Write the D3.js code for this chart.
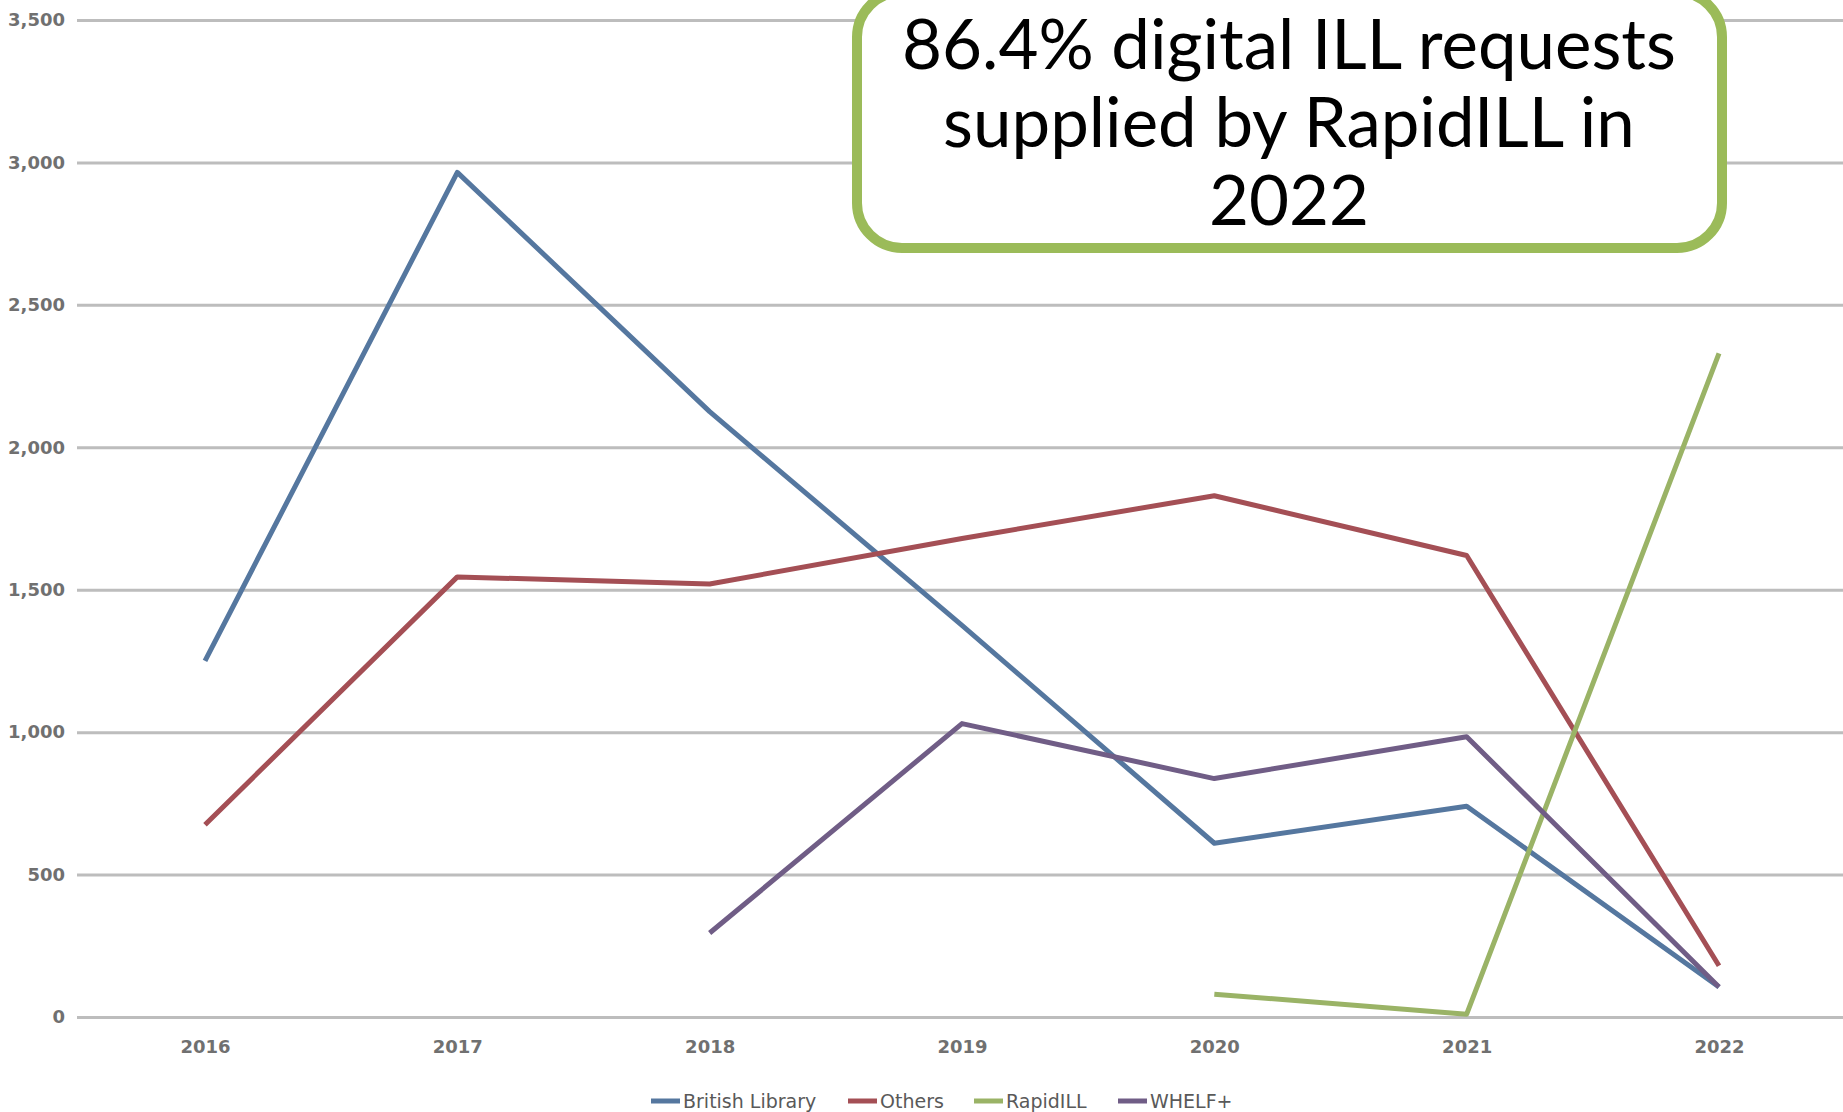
<!DOCTYPE html>
<html>
<head>
<meta charset="utf-8">
<script src="https://cdn.jsdelivr.net/npm/d3@7"></script>
<style>
  body { margin: 0; background: #fff; }
  svg { display: block; }
</style>
</head>
<body>
<svg id="chart" width="1843" height="1112"></svg>
<script>
// data
let years = ["2016", "2017", "2018", "2019", "2020", "2021", "2022"];
let british_library = [1250, 2965, 2125, 1375, 610, 740, 105];
let others = [675, 1545, 1520, 1680, 1830, 1620, 180];
let rapidill = [null, null, null, null, 80, 10, 2330];
let whelf = [null, null, 295, 1030, 837, 984, 105];
let y_ticks = [0, 500, 1000, 1500, 2000, 2500, 3000, 3500];
let series_names = ["British Library", "Others", "RapidILL", "WHELF+"];
let note_lines = ["86.4% digital ILL requests", "supplied by RapidILL in", "2022"];

function draw_chart(svg_name){

    let chart = d3.select(svg_name);
    let chart_width = +chart.attr("width");

    let colors = ["#55779f", "#a44f55", "#9ab366", "#705d86"];
    let all_series = [british_library, others, rapidill, whelf];

    // x position scale
    let x = d3.scalePoint()
            .domain(years)
            .range([205, 1719]);

    // y position scale
    let y = d3.scaleLinear()
            .domain([0, 3500])
            .range([1017, 20]);

    // gridlines + y labels
    let y_axis = chart.append("g")
        .attr("transform", "translate(77,0)")
        .call(d3.axisLeft(y)
            .tickValues(y_ticks)
            .tickFormat(d3.format(","))
            .tickSize(-(chart_width - 77))
            .tickPadding(12));
    y_axis.select(".domain").remove();
    y_axis.selectAll("line")
        .attr("stroke", "#bdbdbd")
        .attr("stroke-width", 3);
    y_axis.selectAll("text")
        .attr("fill", "#707070")
        .style("font-family", "DejaVu Sans")
        .style("font-weight", "bold")
        .style("font-size", "18px");

    // x labels
    let x_axis = chart.append("g")
        .attr("transform", "translate(0,1017)")
        .call(d3.axisBottom(x).tickSize(0).tickPadding(23));
    x_axis.select(".domain").remove();
    x_axis.selectAll("text")
        .attr("fill", "#707070")
        .style("font-family", "DejaVu Sans")
        .style("font-weight", "bold")
        .style("font-size", "18px");

    // lines
    let line = d3.line()
        .defined(function(d){ return d != null; })
        .x(function(d, i){ return x(years[i]); })
        .y(function(d){ return y(d); });

    chart.append("g")
        .selectAll("path")
        .data(all_series).enter()
        .append("path")
            .attr("d", line)
            .attr("fill", "none")
            .attr("stroke", function(d, i){ return colors[i]; })
            .attr("stroke-width", 5)
            .attr("stroke-linejoin", "round");

    // legend
    let legend_x = [651, 848, 974, 1118];
    let legend = chart.append("g")
        .selectAll("g")
        .data(series_names).enter()
        .append("g")
            .attr("transform", function(d, i){ return "translate(" + legend_x[i] + ",1101)"; });
    legend.append("line")
        .attr("x1", 0).attr("x2", 29)
        .attr("stroke", function(d, i){ return colors[i]; })
        .attr("stroke-width", 5);
    legend.append("text")
        .attr("x", 32)
        .attr("dy", "0.35em")
        .attr("fill", "#595959")
        .style("font-family", "DejaVu Sans")
        .style("font-size", "19px")
        .text(function(d){ return d; });

    // callout box
    chart.append("rect")
        .attr("x", 857)
        .attr("y", -8)
        .attr("width", 865)
        .attr("height", 256)
        .attr("rx", 45)
        .attr("fill", "#fff")
        .attr("stroke", "#9bbb59")
        .attr("stroke-width", 10);

    chart.append("g")
        .selectAll("text")
        .data(note_lines).enter()
        .append("text")
            .attr("x", 1289)
            .attr("y", function(d, i){ return 69 + i * 78; })
            .attr("text-anchor", "middle")
            .attr("fill", "#000")
            .style("font-family", "Lato")
            .style("font-size", "69px")
            .text(function(d){ return d; });
}

draw_chart("#chart");
</script>
</body>
</html>
